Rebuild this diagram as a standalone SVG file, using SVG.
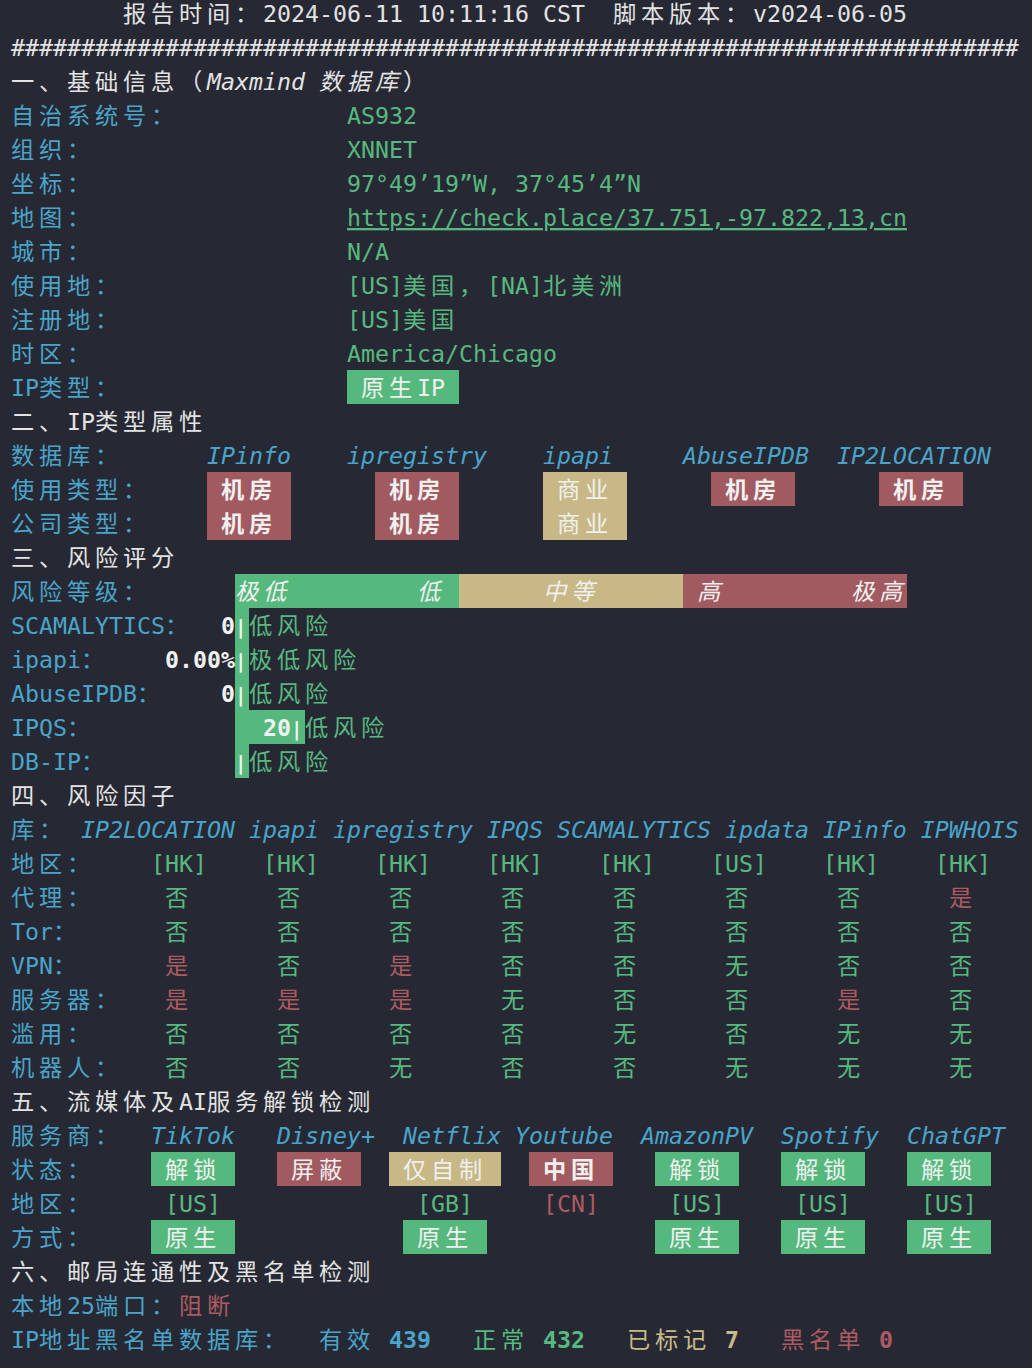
<svg xmlns="http://www.w3.org/2000/svg" width="1032" height="1368" viewBox="0 0 1032 1368">
<style>
.t{font-family:"DejaVu Sans Mono","Noto Sans CJK SC",monospace;font-size:23.25px}
.c{letter-spacing:4.75px}
.w{fill:#e3e3e3}.b{fill:#4aa4ca}.g{fill:#57b97f}.r{fill:#ad5b62}.y{fill:#c9b98a}.k{fill:#f0f0f0}
.i{font-style:italic}.bd{font-weight:bold}
.bar{font-size:19px}
.u{text-decoration:underline;text-decoration-skip-ink:none}
.gb{fill:#55b97e}.rb{fill:#a15a60}.yb{fill:#c7b886}
</style>
<rect x="0" y="0" width="1032" height="1368" fill="#262933"/>
<g class="t">
<g id="header">
<text y="22"><tspan x="123" class="w c">报告时间：</tspan><tspan x="263" class="w">2024-06-11 10:11:16 CST</tspan><tspan x="613" class="w c">脚本版本：</tspan><tspan x="753" class="w">v2024-06-05</tspan></text>
<text y="56" x="11" class="w">########################################################################</text>
</g>
<g id="basic-info">
<text y="90"><tspan x="11" class="w c">一、基础信息（</tspan><tspan x="207" class="w i">Maxmind</tspan><tspan x="319" class="w i c">数据库</tspan><tspan x="403" class="w c">）</tspan></text>
<text y="124"><tspan x="11" class="b c">自治系统号：</tspan><tspan x="347" class="g">AS932</tspan></text>
<text y="158"><tspan x="11" class="b c">组织：</tspan><tspan x="347" class="g">XNNET</tspan></text>
<text y="192"><tspan x="11" class="b c">坐标：</tspan><tspan x="347" class="g">97°49’19”W, 37°45’4”N</tspan></text>
<text y="226"><tspan x="11" class="b c">地图：</tspan><tspan x="347" class="g u">https://check.place/37.751,-97.822,13,cn</tspan></text>
<text y="260"><tspan x="11" class="b c">城市：</tspan><tspan x="347" class="g">N/A</tspan></text>
<text y="294"><tspan x="11" class="b c">使用地：</tspan><tspan x="347" class="g">[US]</tspan><tspan x="403" class="g c">美国，</tspan><tspan x="487" class="g">[NA]</tspan><tspan x="543" class="g c">北美洲</tspan></text>
<text y="328"><tspan x="11" class="b c">注册地：</tspan><tspan x="347" class="g">[US]</tspan><tspan x="403" class="g c">美国</tspan></text>
<text y="362"><tspan x="11" class="b c">时区：</tspan><tspan x="347" class="g">America/Chicago</tspan></text>
<rect x="347" y="370" width="112" height="34" class="gb"/>
<text y="396"><tspan x="11" class="b">IP</tspan><tspan x="39" class="b c">类型：</tspan><tspan x="361" class="k c">原生</tspan><tspan x="417" class="k">IP</tspan></text>
</g>
<g id="ip-type">
<text y="430"><tspan x="11" class="w c">二、</tspan><tspan x="67" class="w">IP</tspan><tspan x="95" class="w c">类型属性</tspan></text>
<text y="464"><tspan x="11" class="b c">数据库：</tspan><tspan x="207" class="b i">IPinfo</tspan><tspan x="347" class="b i">ipregistry</tspan><tspan x="543" class="b i">ipapi</tspan><tspan x="683" class="b i">AbuseIPDB</tspan><tspan x="837" class="b i">IP2LOCATION</tspan></text>
<rect x="207" y="472" width="84" height="68" class="rb"/>
<rect x="375" y="472" width="84" height="68" class="rb"/>
<rect x="543" y="472" width="84" height="68" class="yb"/>
<rect x="711" y="472" width="84" height="34" class="rb"/>
<rect x="879" y="472" width="84" height="34" class="rb"/>
<text y="498"><tspan x="11" class="b c">使用类型：</tspan><tspan x="221" class="k c bd">机房</tspan><tspan x="389" class="k c bd">机房</tspan><tspan x="557" class="k c">商业</tspan><tspan x="725" class="k c bd">机房</tspan><tspan x="893" class="k c bd">机房</tspan></text>
<text y="532"><tspan x="11" class="b c">公司类型：</tspan><tspan x="221" class="k c bd">机房</tspan><tspan x="389" class="k c bd">机房</tspan><tspan x="557" class="k c">商业</tspan></text>
</g>
<g id="risk-score">
<text y="566" x="11" class="w c">三、风险评分</text>
<rect x="235" y="574" width="224" height="34" class="gb"/>
<rect x="459" y="574" width="224" height="34" class="yb"/>
<rect x="683" y="574" width="224" height="34" class="rb"/>
<text y="600"><tspan x="11" class="b c">风险等级：</tspan><tspan x="235" class="k i c">极低</tspan><tspan x="417" class="k i c">低</tspan><tspan x="543" class="k i c">中等</tspan><tspan x="697" class="k i c">高</tspan><tspan x="851" class="k i c">极高</tspan></text>
<rect x="235" y="608" width="14" height="170" class="gb"/>
<rect x="235" y="710" width="70" height="34" class="gb"/>
<text y="634"><tspan x="11" class="b">SCAMALYTICS</tspan><tspan x="165" class="b c">：</tspan><tspan x="221" class="k bd">0</tspan><tspan x="235" class="k bd bar">|</tspan><tspan x="249" class="g c">低风险</tspan></text>
<text y="668"><tspan x="11" class="b">ipapi</tspan><tspan x="81" class="b c">：</tspan><tspan x="165" class="k bd">0.00%</tspan><tspan x="235" class="k bd bar">|</tspan><tspan x="249" class="g c">极低风险</tspan></text>
<text y="702"><tspan x="11" class="b">AbuseIPDB</tspan><tspan x="137" class="b c">：</tspan><tspan x="221" class="k bd">0</tspan><tspan x="235" class="k bd bar">|</tspan><tspan x="249" class="g c">低风险</tspan></text>
<text y="736"><tspan x="11" class="b">IPQS</tspan><tspan x="67" class="b c">：</tspan><tspan x="263" class="k bd">20</tspan><tspan x="291" class="k bd bar">|</tspan><tspan x="305" class="g c">低风险</tspan></text>
<text y="770"><tspan x="11" class="b">DB-IP</tspan><tspan x="81" class="b c">：</tspan><tspan x="235" class="k bd bar">|</tspan><tspan x="249" class="g c">低风险</tspan></text>
</g>
<g id="risk-factors">
<text y="804" x="11" class="w c">四、风险因子</text>
<text y="838"><tspan x="11" class="b c">库：</tspan><tspan x="81" class="b i">IP2LOCATION ipapi ipregistry IPQS SCAMALYTICS ipdata IPinfo IPWHOIS</tspan></text>
<text y="872"><tspan x="11" class="b c">地区：</tspan><tspan x="151" class="g">[HK]</tspan><tspan x="263" class="g">[HK]</tspan><tspan x="375" class="g">[HK]</tspan><tspan x="487" class="g">[HK]</tspan><tspan x="599" class="g">[HK]</tspan><tspan x="711" class="g">[US]</tspan><tspan x="823" class="g">[HK]</tspan><tspan x="935" class="g">[HK]</tspan></text>
<text y="906"><tspan x="11" class="b c">代理：</tspan><tspan x="165" class="g">否</tspan><tspan x="277" class="g">否</tspan><tspan x="389" class="g">否</tspan><tspan x="501" class="g">否</tspan><tspan x="613" class="g">否</tspan><tspan x="725" class="g">否</tspan><tspan x="837" class="g">否</tspan><tspan x="949" class="r">是</tspan></text>
<text y="940"><tspan x="11" class="b">Tor</tspan><tspan x="53" class="b c">：</tspan><tspan x="165" class="g">否</tspan><tspan x="277" class="g">否</tspan><tspan x="389" class="g">否</tspan><tspan x="501" class="g">否</tspan><tspan x="613" class="g">否</tspan><tspan x="725" class="g">否</tspan><tspan x="837" class="g">否</tspan><tspan x="949" class="g">否</tspan></text>
<text y="974"><tspan x="11" class="b">VPN</tspan><tspan x="53" class="b c">：</tspan><tspan x="165" class="r">是</tspan><tspan x="277" class="g">否</tspan><tspan x="389" class="r">是</tspan><tspan x="501" class="g">否</tspan><tspan x="613" class="g">否</tspan><tspan x="725" class="g">无</tspan><tspan x="837" class="g">否</tspan><tspan x="949" class="g">否</tspan></text>
<text y="1008"><tspan x="11" class="b c">服务器：</tspan><tspan x="165" class="r">是</tspan><tspan x="277" class="r">是</tspan><tspan x="389" class="r">是</tspan><tspan x="501" class="g">无</tspan><tspan x="613" class="g">否</tspan><tspan x="725" class="g">否</tspan><tspan x="837" class="r">是</tspan><tspan x="949" class="g">否</tspan></text>
<text y="1042"><tspan x="11" class="b c">滥用：</tspan><tspan x="165" class="g">否</tspan><tspan x="277" class="g">否</tspan><tspan x="389" class="g">否</tspan><tspan x="501" class="g">否</tspan><tspan x="613" class="g">无</tspan><tspan x="725" class="g">否</tspan><tspan x="837" class="g">无</tspan><tspan x="949" class="g">无</tspan></text>
<text y="1076"><tspan x="11" class="b c">机器人：</tspan><tspan x="165" class="g">否</tspan><tspan x="277" class="g">否</tspan><tspan x="389" class="g">无</tspan><tspan x="501" class="g">否</tspan><tspan x="613" class="g">否</tspan><tspan x="725" class="g">无</tspan><tspan x="837" class="g">无</tspan><tspan x="949" class="g">无</tspan></text>
</g>
<g id="streaming">
<text y="1110"><tspan x="11" class="w c">五、流媒体及</tspan><tspan x="179" class="w">AI</tspan><tspan x="207" class="w c">服务解锁检测</tspan></text>
<text y="1144"><tspan x="11" class="b c">服务商：</tspan><tspan x="151" class="b i">TikTok</tspan><tspan x="277" class="b i">Disney+</tspan><tspan x="403" class="b i">Netflix</tspan><tspan x="515" class="b i">Youtube</tspan><tspan x="641" class="b i">AmazonPV</tspan><tspan x="781" class="b i">Spotify</tspan><tspan x="907" class="b i">ChatGPT</tspan></text>
<rect x="151" y="1152" width="84" height="34" class="gb"/>
<rect x="277" y="1152" width="84" height="34" class="rb"/>
<rect x="389" y="1152" width="112" height="34" class="yb"/>
<rect x="529" y="1152" width="84" height="34" class="rb"/>
<rect x="655" y="1152" width="84" height="34" class="gb"/>
<rect x="781" y="1152" width="84" height="34" class="gb"/>
<rect x="907" y="1152" width="84" height="34" class="gb"/>
<text y="1178"><tspan x="11" class="b c">状态：</tspan><tspan x="165" class="k c">解锁</tspan><tspan x="291" class="k c">屏蔽</tspan><tspan x="403" class="k c">仅自制</tspan><tspan x="543" class="k c bd">中国</tspan><tspan x="669" class="k c">解锁</tspan><tspan x="795" class="k c">解锁</tspan><tspan x="921" class="k c">解锁</tspan></text>
<text y="1212"><tspan x="11" class="b c">地区：</tspan><tspan x="165" class="g">[US]</tspan><tspan x="417" class="g">[GB]</tspan><tspan x="543" class="r">[CN]</tspan><tspan x="669" class="g">[US]</tspan><tspan x="795" class="g">[US]</tspan><tspan x="921" class="g">[US]</tspan></text>
<rect x="151" y="1220" width="84" height="34" class="gb"/>
<rect x="403" y="1220" width="84" height="34" class="gb"/>
<rect x="655" y="1220" width="84" height="34" class="gb"/>
<rect x="781" y="1220" width="84" height="34" class="gb"/>
<rect x="907" y="1220" width="84" height="34" class="gb"/>
<text y="1246"><tspan x="11" class="b c">方式：</tspan><tspan x="165" class="k c">原生</tspan><tspan x="417" class="k c">原生</tspan><tspan x="669" class="k c">原生</tspan><tspan x="795" class="k c">原生</tspan><tspan x="921" class="k c">原生</tspan></text>
</g>
<g id="mail">
<text y="1280" x="11" class="w c">六、邮局连通性及黑名单检测</text>
<text y="1314"><tspan x="11" class="b c">本地</tspan><tspan x="67" class="b">25</tspan><tspan x="95" class="b c">端口：</tspan><tspan x="179" class="r c">阻断</tspan></text>
<text y="1348"><tspan x="11" class="b">IP</tspan><tspan x="39" class="b c">地址黑名单数据库：</tspan><tspan x="319" class="b c">有效</tspan><tspan x="389" class="b bd">439</tspan><tspan x="473" class="g c">正常</tspan><tspan x="543" class="g bd">432</tspan><tspan x="627" class="y c">已标记</tspan><tspan x="725" class="y bd">7</tspan><tspan x="781" class="r c">黑名单</tspan><tspan x="879" class="r bd">0</tspan></text>
</g>
</g>
</svg>
